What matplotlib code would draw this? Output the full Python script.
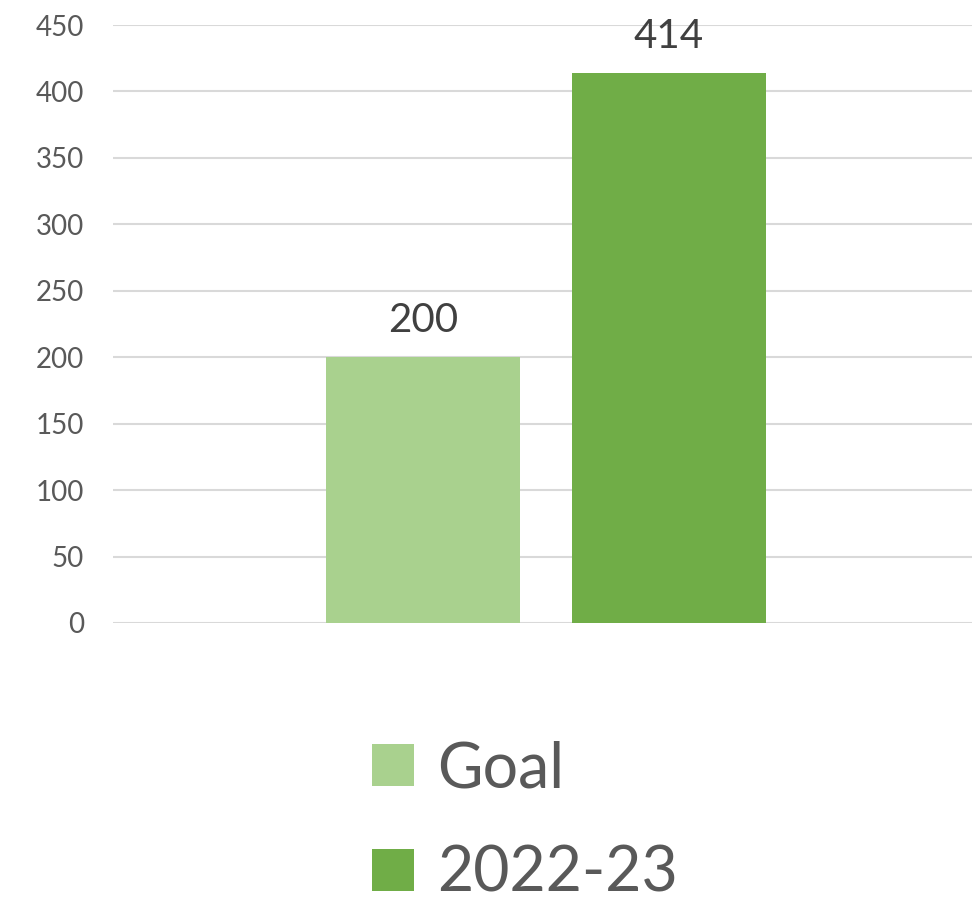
import matplotlib.pyplot as plt
from matplotlib.patches import Patch

plt.rcParams['font.family'] = ['Lato', 'DejaVu Sans']

series = ["Goal", "2022-23"]
values = [200, 414]
colors = ["#A9D18E", "#70AD47"]
yticks = [0, 50, 100, 150, 200, 250, 300, 350, 400, 450]

fig = plt.figure(figsize=(9.72, 9.06), dpi=100)
ax = fig.add_axes([0.1163, 0.3124, 0.8837, 0.66])

xpos = [0, 1]
bars = ax.bar(xpos, values, width=0.789, color=colors, zorder=3)

for b, v in zip(bars, values):
    ax.annotate(str(v), (b.get_x() + b.get_width() / 2, v),
                xytext=(0, 13), textcoords="offset points",
                ha="center", va="bottom", fontsize=29, color="#404040")

ax.set_xlim(-1.260, 2.232)
ax.set_ylim(0, 450)
ax.set_yticks(yticks)
ax.set_xticks([])
ax.yaxis.grid(True, color="#D9D9D9", linewidth=1.5, zorder=0)
ax.tick_params(axis="y", length=0, pad=21, labelsize=20, labelcolor="#595959")
for s in ax.spines.values():
    s.set_visible(False)

handles = [Patch(facecolor=c, label=l) for c, l in zip(colors, series)]
fig.legend(handles=handles, loc="upper left",
           bbox_to_anchor=(372 / 972, 1 - 740 / 906),
           frameon=False, fontsize=45, labelcolor="#595959",
           handlelength=0.67, handleheight=0.67, handletextpad=0.37,
           labelspacing=0.75, borderpad=0, borderaxespad=0)

fig.savefig("out.png", dpi=100)
